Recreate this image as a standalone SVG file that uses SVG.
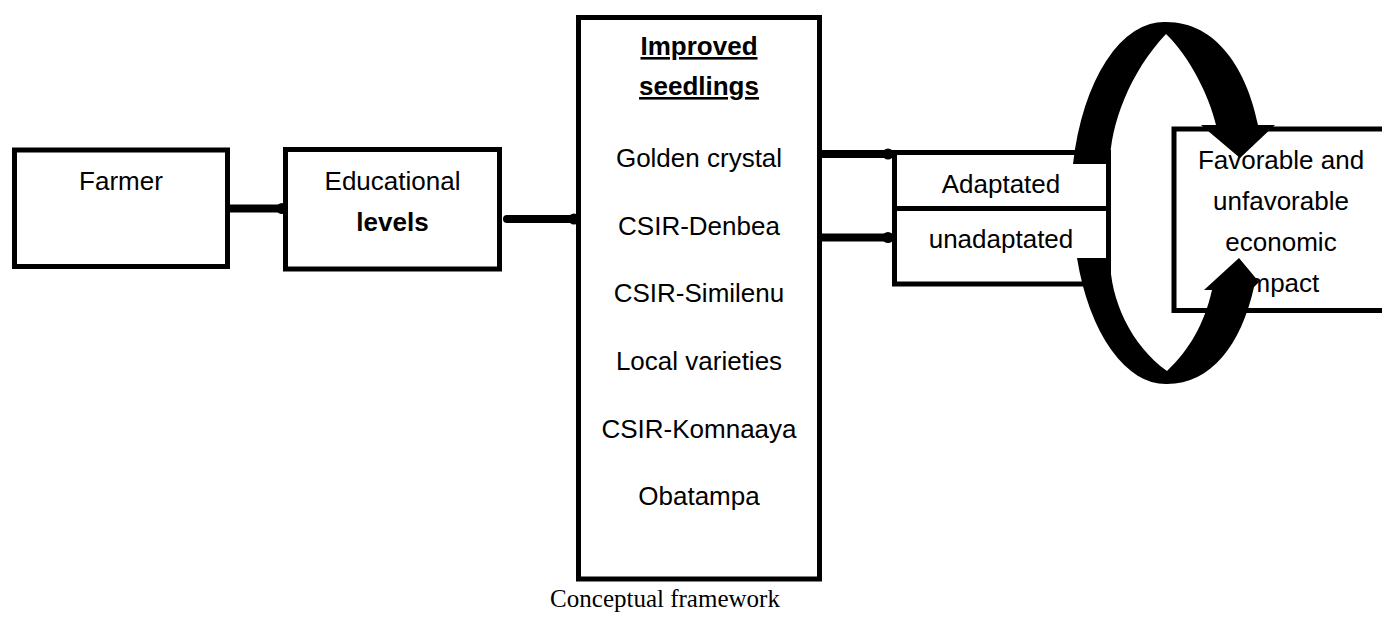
<svg xmlns="http://www.w3.org/2000/svg" width="1382" height="620" viewBox="0 0 1382 620">
<style>
.box{fill:#fff;stroke:#000;stroke-width:5}
.t{font-family:"Liberation Sans",Arial,sans-serif;font-size:26px;fill:#000;text-anchor:middle}
.b{font-weight:bold}
.u{text-decoration:underline}
.con{stroke:#000;stroke-width:8;fill:none}
.cap{font-family:"Liberation Serif","Times New Roman",serif;font-size:25px;fill:#000;text-anchor:middle}
</style>
<defs>
<marker id="dot" viewBox="0 0 10 10" refX="5" refY="5" markerWidth="1.4" markerHeight="1.6" orient="auto">
<ellipse cx="5" cy="5" rx="5" ry="5" fill="#000"/>
</marker>
</defs>
<rect width="1382" height="620" fill="#fff"/>
<g id="farmer">
<rect class="box" x="14.5" y="150" width="213" height="116.5"/>
<text class="t" x="121" y="190">Farmer</text>
</g>
<g id="education">
<rect class="box" x="285.5" y="149.5" width="214" height="119.5"/>
<text class="t" x="392.5" y="190">Educational</text>
<text class="t b" x="392.5" y="231">levels</text>
</g>
<g id="seedlings">
<rect class="box" x="578.5" y="17.5" width="241" height="561.5"/>
<text class="t b u" x="699" y="55">Improved</text>
<text class="t b u" x="699" y="95">seedlings</text>
<text class="t" x="699" y="167">Golden crystal</text>
<text class="t" x="699" y="235">CSIR-Denbea</text>
<text class="t" x="699" y="302">CSIR-Similenu</text>
<text class="t" x="699" y="370">Local varieties</text>
<text class="t" x="699" y="438">CSIR-Komnaaya</text>
<text class="t" x="699" y="505">Obatampa</text>
</g>
<g id="adaptation">
<rect class="box" x="894.5" y="152.5" width="214" height="131.5"/>
<line x1="894.5" y1="208.5" x2="1108.5" y2="208.5" stroke="#000" stroke-width="5"/>
<text class="t" x="1001" y="193">Adaptated</text>
<text class="t" x="1001" y="248">unadaptated</text>
</g>
<g id="impact">
<rect class="box" x="1174" y="129" width="230" height="181.5"/>
<text class="t" x="1281" y="169">Favorable and</text>
<text class="t" x="1281" y="210">unfavorable</text>
<text class="t" x="1281" y="251">economic</text>
<text class="t" x="1281" y="292">impact</text>
</g>
<g id="connectors">
<line class="con" x1="229" y1="208.5" x2="282" y2="208.5" marker-end="url(#dot)"/>
<line class="con" x1="507" y1="219" x2="574" y2="219" stroke-linecap="round" marker-end="url(#dot)"/>
<line class="con" x1="822" y1="154" x2="888" y2="154" marker-end="url(#dot)"/>
<line class="con" x1="822" y1="237.5" x2="888" y2="237.5" marker-end="url(#dot)"/>
</g>
<g id="cycle" fill="#000">
<path d="M1073 164 A93 180 0 0 1 1166 22 C1217 22 1247 70 1258 125 L1275 125 L1240 158 L1201 125 L1216 125 C1209 95 1189 56 1166 34 C1130 72 1110 125 1110 164 Z"/>
<path d="M1077 258 L1110 258 C1110 300 1131 345 1167 371 C1189 350 1204 325 1212 290 L1204 290 L1239 258 L1259 282 L1254 287 C1241 345 1211 384 1167 384 A93 180 0 0 1 1077 258 Z"/>
</g>
<text class="cap" x="665" y="607">Conceptual framework</text>
</svg>
